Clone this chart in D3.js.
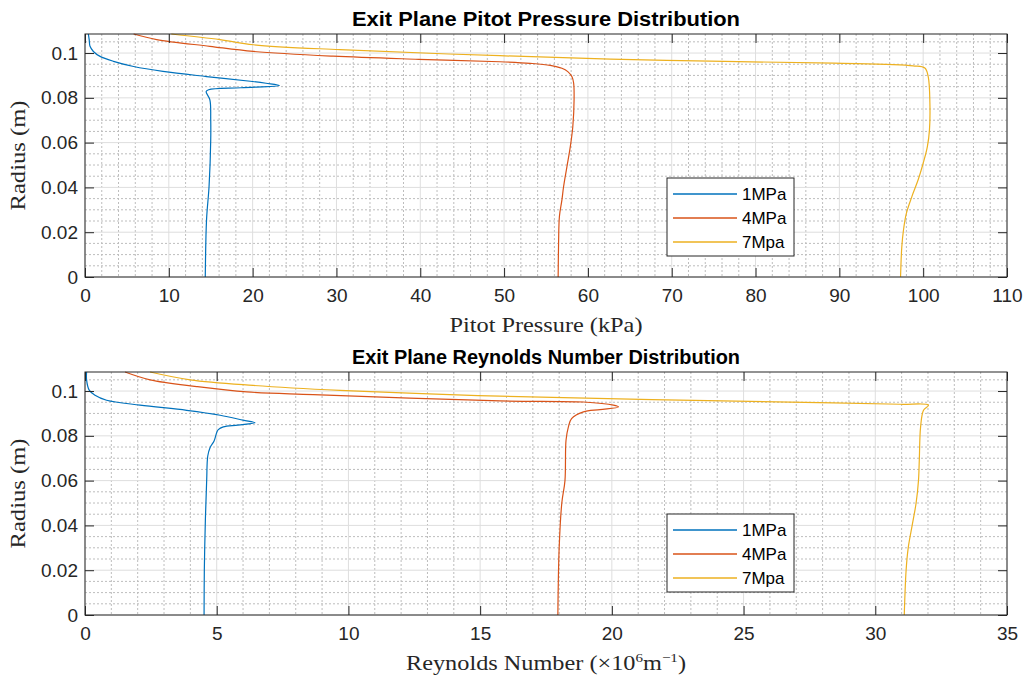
<!DOCTYPE html>
<html>
<head>
<meta charset="utf-8">
<script src="https://cdn.jsdelivr.net/npm/d3@7"></script>
<style>
  body { margin: 0; background: #fff; }
  svg { display: block; }
</style>
</head>
<body>
<svg id="chart" width="1028" height="680"></svg>
<script>
// ---- data ----
const seriesNames  = ['1MPa', '4MPa', '7Mpa'];
const seriesColors = ['#0072BD', '#D95319', '#EDB120'];

// top panel: pitot pressure (kPa) vs radius (m)
const pitotR1 = [0, 0.0255, 0.0404, 0.0612, 0.0702, 0.0791, 0.0828, 0.0836, 0.0845, 0.0855, 0.0865, 0.0873, 0.0895, 0.0918, 0.094, 0.0963, 0.0985, 0.1007, 0.103, 0.106, 0.1085];
const pitotV1 = [14.35, 14.5, 14.8, 15.0, 15.0, 14.9, 14.45, 14.75, 18.6, 23.2, 21.6, 20.0, 14.5, 9.3, 5.8, 3.4, 1.8, 1.0, 0.6, 0.5, 0.4];
const pitotR4 = [0, 0.015, 0.027, 0.0344, 0.0404, 0.0493, 0.0582, 0.0672, 0.0791, 0.0865, 0.0894, 0.0917, 0.0932, 0.0945, 0.0954, 0.0961, 0.0972, 0.0986, 0.1007, 0.103, 0.106, 0.1085];
const pitotV4 = [56.45, 56.5, 56.6, 56.9, 57.1, 57.5, 57.9, 58.2, 58.35, 58.3, 58.1, 57.6, 56.9, 55.5, 53.1, 49.5, 39.8, 29.6, 20.1, 14.9, 8.55, 5.8];
const pitotR7 = [0, 0.0135, 0.021, 0.0285, 0.0359, 0.0434, 0.0508, 0.0582, 0.0657, 0.0778, 0.0895, 0.0933, 0.0943, 0.0955, 0.0967, 0.0988, 0.1015, 0.1037, 0.106, 0.1085];
const pitotV7 = [97.3, 97.45, 97.65, 98.0, 98.65, 99.4, 100.0, 100.5, 100.75, 100.8, 100.6, 100.2, 98.8, 89.3, 69.4, 49.5, 30.4, 20.1, 16.1, 10.3];

// bottom panel: Reynolds number (x10^6 /m) vs radius (m)
const reR1 = [0, 0.0202, 0.0426, 0.0605, 0.071, 0.0748, 0.0777, 0.0815, 0.0828, 0.084, 0.0848, 0.0858, 0.087, 0.0892, 0.0914, 0.0937, 0.0959, 0.0981, 0.1004, 0.105, 0.1085];
const reV1 = [4.52, 4.53, 4.57, 4.62, 4.66, 4.75, 4.9, 5.0, 5.06, 5.25, 5.8, 6.45, 6.0, 5.13, 3.86, 2.09, 0.82, 0.38, 0.16, 0.06, 0.06];
const reR4 = [0, 0.03, 0.05, 0.06, 0.078, 0.084, 0.0877, 0.0907, 0.0917, 0.0929, 0.0937, 0.0951, 0.0956, 0.0984, 0.0996, 0.102, 0.105, 0.1085];
const reV4 = [17.95, 18.0, 18.1, 18.22, 18.26, 18.35, 18.47, 18.92, 19.55, 20.25, 20.06, 18.92, 15.75, 8.67, 6.14, 4.24, 2.47, 1.52];
const reR7 = [0, 0.02, 0.03, 0.04, 0.05, 0.0601, 0.069, 0.084, 0.0914, 0.0937, 0.0941, 0.0947, 0.0977, 0.1003, 0.1025, 0.105, 0.1085];
const reV7 = [31.1, 31.17, 31.25, 31.4, 31.55, 31.64, 31.67, 31.72, 31.83, 32.02, 30.94, 28.4, 15.75, 9.68, 6.38, 3.99, 2.47];

const radiusTicks = [0, 0.02, 0.04, 0.06, 0.08, 0.1];
const pitotTicks = d3.range(0, 111, 10);
const reTicks = d3.range(0, 36, 5);

// ---- layout ----
const svg = d3.select('#chart');
const left = 85, plotW = 922, plotH = 243;
const tickFont = '"Liberation Sans", Arial, sans-serif';
const serifFont = '"Liberation Serif", "Times New Roman", serif';
const axisColor = '#262626';

function drawPanel(opt) {
  const g = svg.append('g').attr('transform', `translate(${left},${opt.top})`);
  const x = d3.scaleLinear().domain([0, opt.xMax]).range([0, plotW]);
  const y = d3.scaleLinear().domain([0, 0.1085]).range([plotH, 0]);

  // minor grid (dotted)
  const minorX = d3.range(0, opt.xMax + 1e-9, opt.xMinor).filter(v => !opt.xTicks.includes(v));
  const minorY = d3.range(0, 0.1085, 0.005).filter(v => !radiusTicks.some(t => Math.abs(t - v) < 1e-9));
  g.append('g').selectAll('line').data(minorX).join('line')
    .attr('x1', d => x(d)).attr('x2', d => x(d)).attr('y1', 0).attr('y2', plotH)
    .attr('stroke', '#bdbdbd').attr('stroke-dasharray', '2,2');
  g.append('g').selectAll('line').data(minorY).join('line')
    .attr('y1', d => y(d)).attr('y2', d => y(d)).attr('x1', 0).attr('x2', plotW)
    .attr('stroke', '#bdbdbd').attr('stroke-dasharray', '2,2');

  // major grid
  g.append('g').selectAll('line').data(opt.xTicks).join('line')
    .attr('x1', d => x(d)).attr('x2', d => x(d)).attr('y1', 0).attr('y2', plotH)
    .attr('stroke', '#dedede');
  g.append('g').selectAll('line').data(radiusTicks).join('line')
    .attr('y1', d => y(d)).attr('y2', d => y(d)).attr('x1', 0).attr('x2', plotW)
    .attr('stroke', '#dedede');

  // curves
  const line = d3.line().x(d => x(d[1])).y(d => y(d[0])).curve(d3.curveCatmullRom.alpha(0.5));
  g.append('g').selectAll('path').data(opt.series).join('path')
    .attr('d', d => line(d3.zip(d.r, d.v)))
    .attr('fill', 'none')
    .attr('stroke', (d, i) => seriesColors[i])
    .attr('stroke-width', 1.2);

  // axes with inward ticks on all four sides
  const styleAxis = sel => {
    sel.select('.domain').remove();
    sel.selectAll('line').attr('stroke', axisColor);
    sel.selectAll('text').attr('fill', axisColor).style('font-family', tickFont).style('font-size', '19px');
  };
  g.append('g').attr('transform', `translate(0,${plotH})`)
    .call(d3.axisBottom(x).tickValues(opt.xTicks).tickFormat(d3.format('d')).tickSizeInner(-9).tickSizeOuter(0).tickPadding(12))
    .call(styleAxis);
  g.append('g')
    .call(d3.axisTop(x).tickValues(opt.xTicks).tickFormat('').tickSizeInner(-9).tickSizeOuter(0))
    .call(styleAxis);
  g.append('g')
    .call(d3.axisLeft(y).tickValues(radiusTicks).tickFormat(d => d === 0 ? '0' : d3.format('~g')(d)).tickSizeInner(-9).tickSizeOuter(0).tickPadding(7))
    .call(styleAxis);
  g.append('g').attr('transform', `translate(${plotW},0)`)
    .call(d3.axisRight(y).tickValues(radiusTicks).tickFormat('').tickSizeInner(-9).tickSizeOuter(0))
    .call(styleAxis);

  g.append('rect').attr('width', plotW).attr('height', plotH)
    .attr('fill', 'none').attr('stroke', axisColor).attr('stroke-width', 1);

  // title
  g.append('text').attr('x', plotW / 2).attr('y', -8).attr('text-anchor', 'middle')
    .style('font-family', tickFont).style('font-size', '20px').style('font-weight', 'bold')
    .attr('textLength', 388).attr('lengthAdjust', 'spacingAndGlyphs')
    .attr('fill', '#000').text(opt.title);

  // y label
  g.append('text').attr('transform', `translate(-60,${plotH / 2}) rotate(-90)`)
    .attr('text-anchor', 'middle').style('font-family', serifFont).style('font-size', '21px')
    .attr('textLength', 110).attr('lengthAdjust', 'spacingAndGlyphs')
    .attr('fill', axisColor).text('Radius (m)');

  // x label
  const xl = g.append('text').attr('x', plotW / 2).attr('y', plotH + 55).attr('text-anchor', 'middle')
    .style('font-family', serifFont).style('font-size', '21px').attr('fill', axisColor)
    .attr('textLength', opt.xLabelWidth).attr('lengthAdjust', 'spacingAndGlyphs');
  opt.xLabel(xl);

  // legend
  const lg = g.append('g').attr('transform', `translate(582,${opt.legendTop})`);
  lg.append('rect').attr('width', 127).attr('height', 78)
    .attr('fill', '#fff').attr('stroke', axisColor).attr('stroke-width', 1);
  const item = lg.selectAll('g.item').data(seriesNames).join('g')
    .attr('transform', (d, i) => `translate(0,${16 + i * 24})`);
  item.append('line').attr('x1', 6).attr('x2', 70)
    .attr('stroke', (d, i) => seriesColors[i]).attr('stroke-width', 1.3);
  item.append('text').attr('x', 75).attr('dy', '0.35em')
    .style('font-family', tickFont).style('font-size', '17px').attr('fill', '#000')
    .text(d => d);
}

drawPanel({
  top: 34, xMax: 110, xTicks: pitotTicks, xMinor: 2, legendTop: 144,
  title: 'Exit Plane Pitot Pressure Distribution',
  xLabelWidth: 193,
  xLabel: t => t.text('Pitot Pressure (kPa)'),
  series: [
    { r: pitotR1, v: pitotV1 },
    { r: pitotR4, v: pitotV4 },
    { r: pitotR7, v: pitotV7 }
  ]
});

drawPanel({
  top: 372, xMax: 35, xTicks: reTicks, xMinor: 1, legendTop: 142,
  title: 'Exit Plane Reynolds Number Distribution',
  xLabelWidth: 280,
  xLabel: t => {
    t.append('tspan').text('Reynolds Number (×10');
    t.append('tspan').attr('dy', -8).style('font-size', '13px').text('6');
    t.append('tspan').attr('dy', 8).text('m');
    t.append('tspan').attr('dy', -8).style('font-size', '13px').text('−1');
    t.append('tspan').attr('dy', 8).text(')');
  },
  series: [
    { r: reR1, v: reV1 },
    { r: reR4, v: reV4 },
    { r: reR7, v: reV7 }
  ]
});
</script>
</body>
</html>
